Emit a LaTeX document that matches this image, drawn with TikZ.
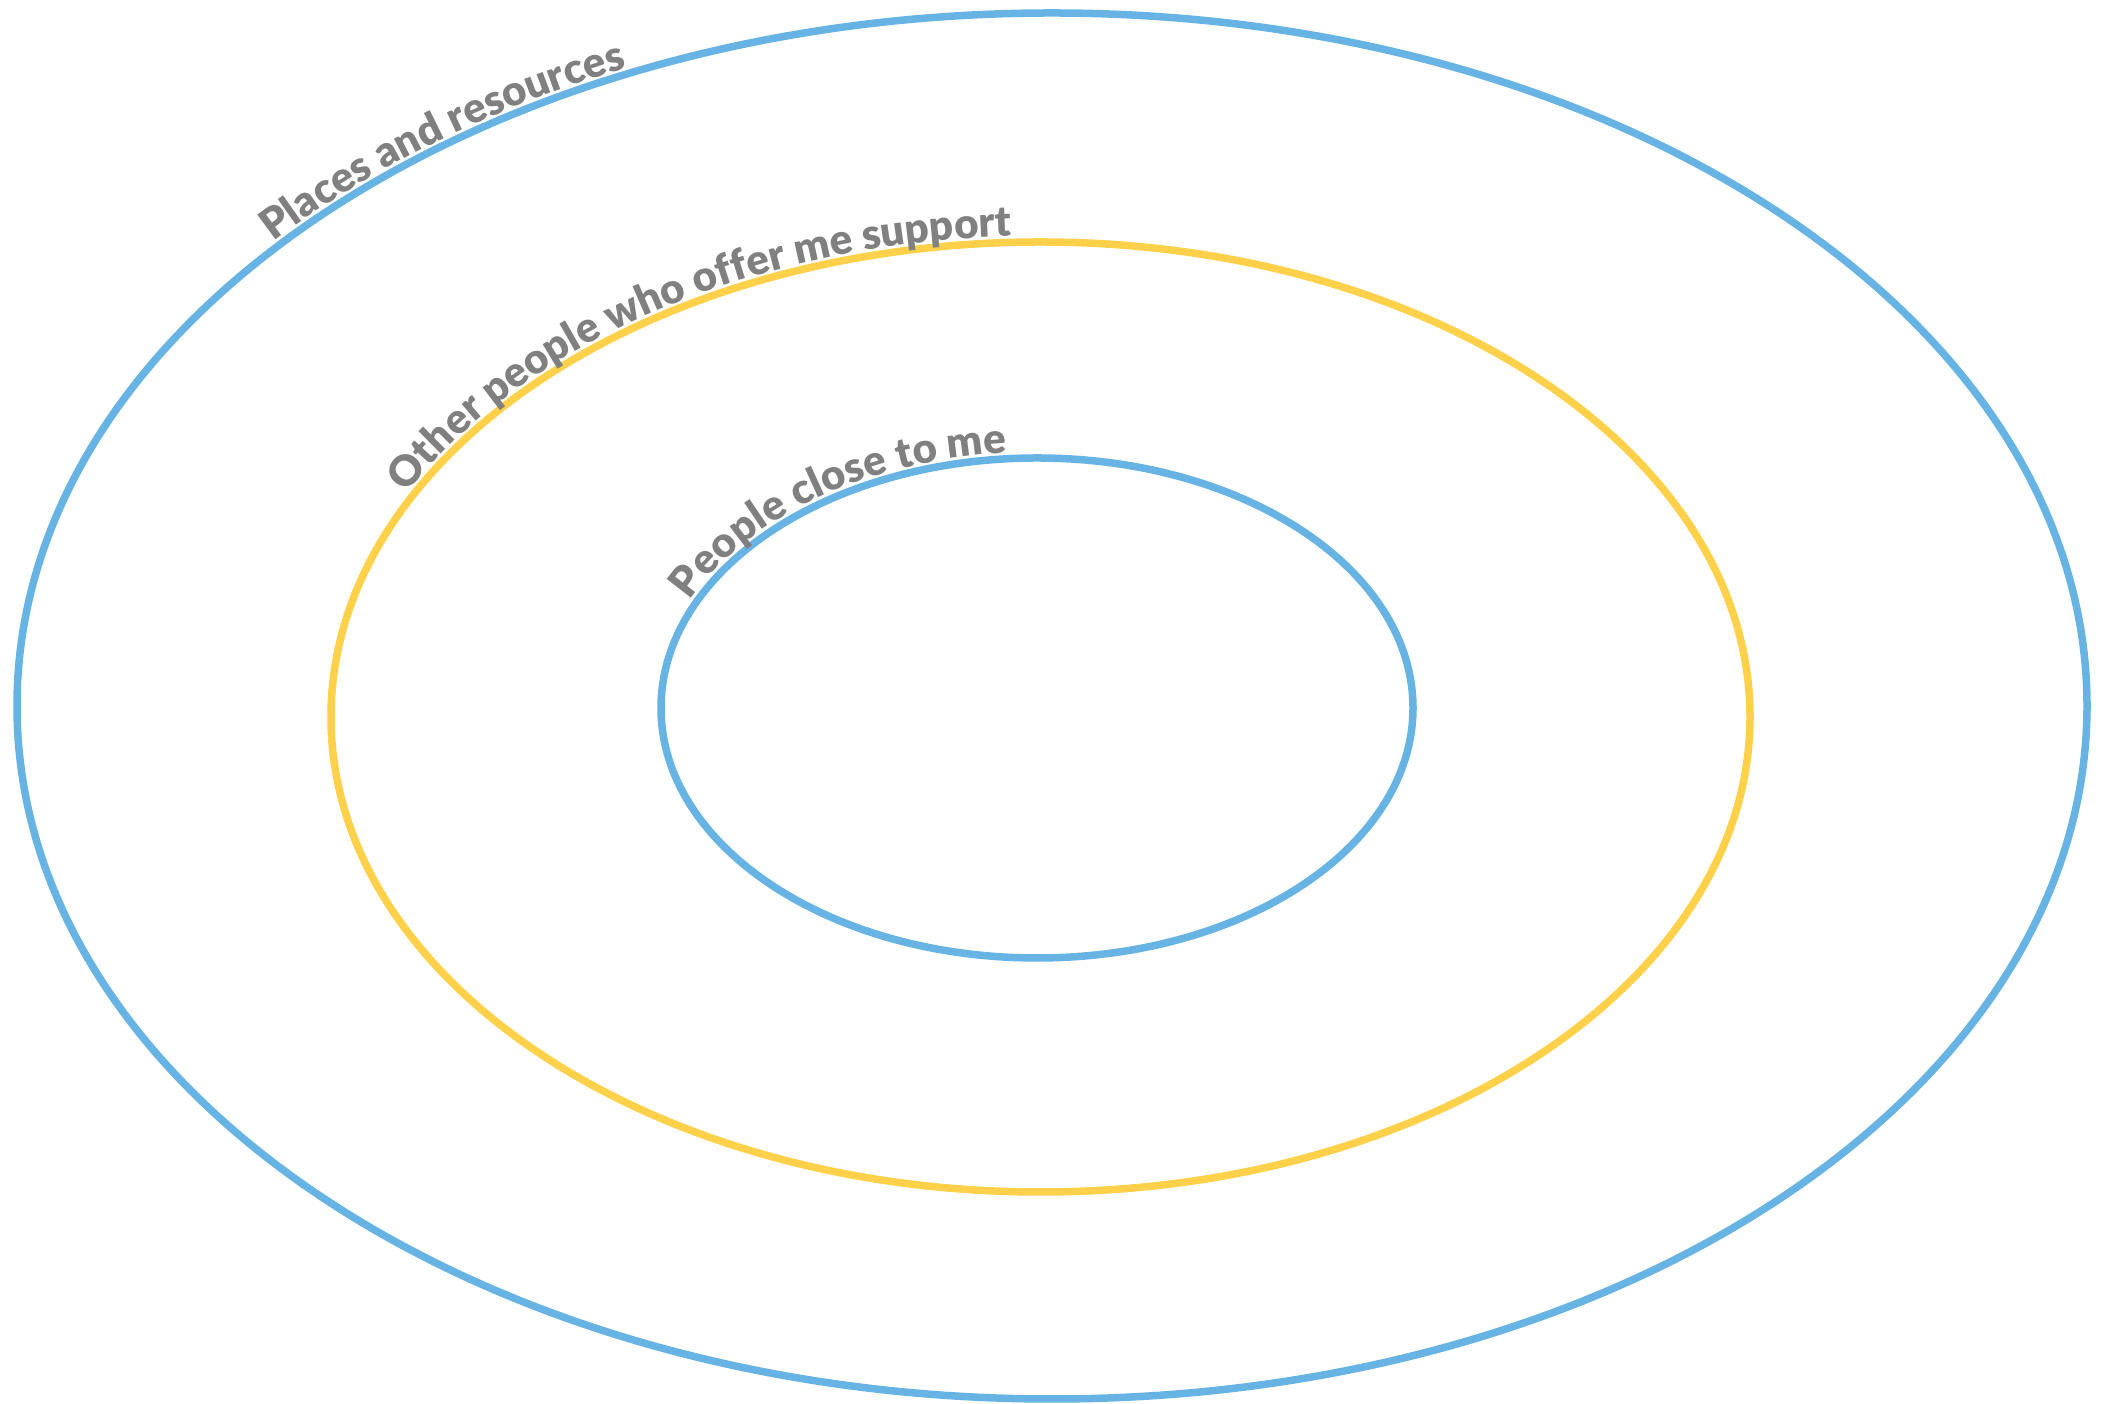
\documentclass[tikz,border=0pt]{standalone}
\usepackage{fontspec}
\newfontfamily\lbl{Lato Black}
\usetikzlibrary{decorations.text}
\definecolor{ringblue}{HTML}{67B3E3}
\definecolor{ringyellow}{HTML}{FFD04A}
\definecolor{txtgray}{HTML}{808080}
\tikzset{
  ring/.style={line width=7.5pt},
  ringlabel/.style={decorate, decoration={text along path, raise=6pt,
      text color=txtgray, text format delimiters={|}{|}}}
}
\newcommand{\lblfont}{\lbl\fontsize{42}{44}\selectfont}
\begin{document}
\begin{tikzpicture}[x=1pt,y=1pt]
\useasboundingbox (0,0) rectangle (2110,1404);
% outer ring
\draw[ring, ringblue] (1052,698) ellipse [x radius=1035pt, y radius=693pt];
% middle ring
\draw[ring, ringyellow] (1040.5,687) ellipse [x radius=709.5pt, y radius=475pt];
% inner ring
\draw[ring, ringblue] (1037,696) ellipse [x radius=376pt, y radius=250pt];
% labels
\path[ringlabel, decoration={text={|\lblfont|Places and resources}}]
  (1052,698) ++(138.5:1035pt and 693pt) arc[start angle=138.5, end angle=60, x radius=1035pt, y radius=693pt];
\path[ringlabel, decoration={text={|\lblfont|Other people who offer me support}}]
  (1040.5,687) ++(152.5:709.5pt and 475pt) arc[start angle=152.5, end angle=40, x radius=709.5pt, y radius=475pt];
\path[ringlabel, decoration={text={|\lblfont|People close to me}}]
  (1037,696) ++(155.5:376pt and 250pt) arc[start angle=155.5, end angle=40, x radius=376pt, y radius=250pt];
\end{tikzpicture}
\end{document}
